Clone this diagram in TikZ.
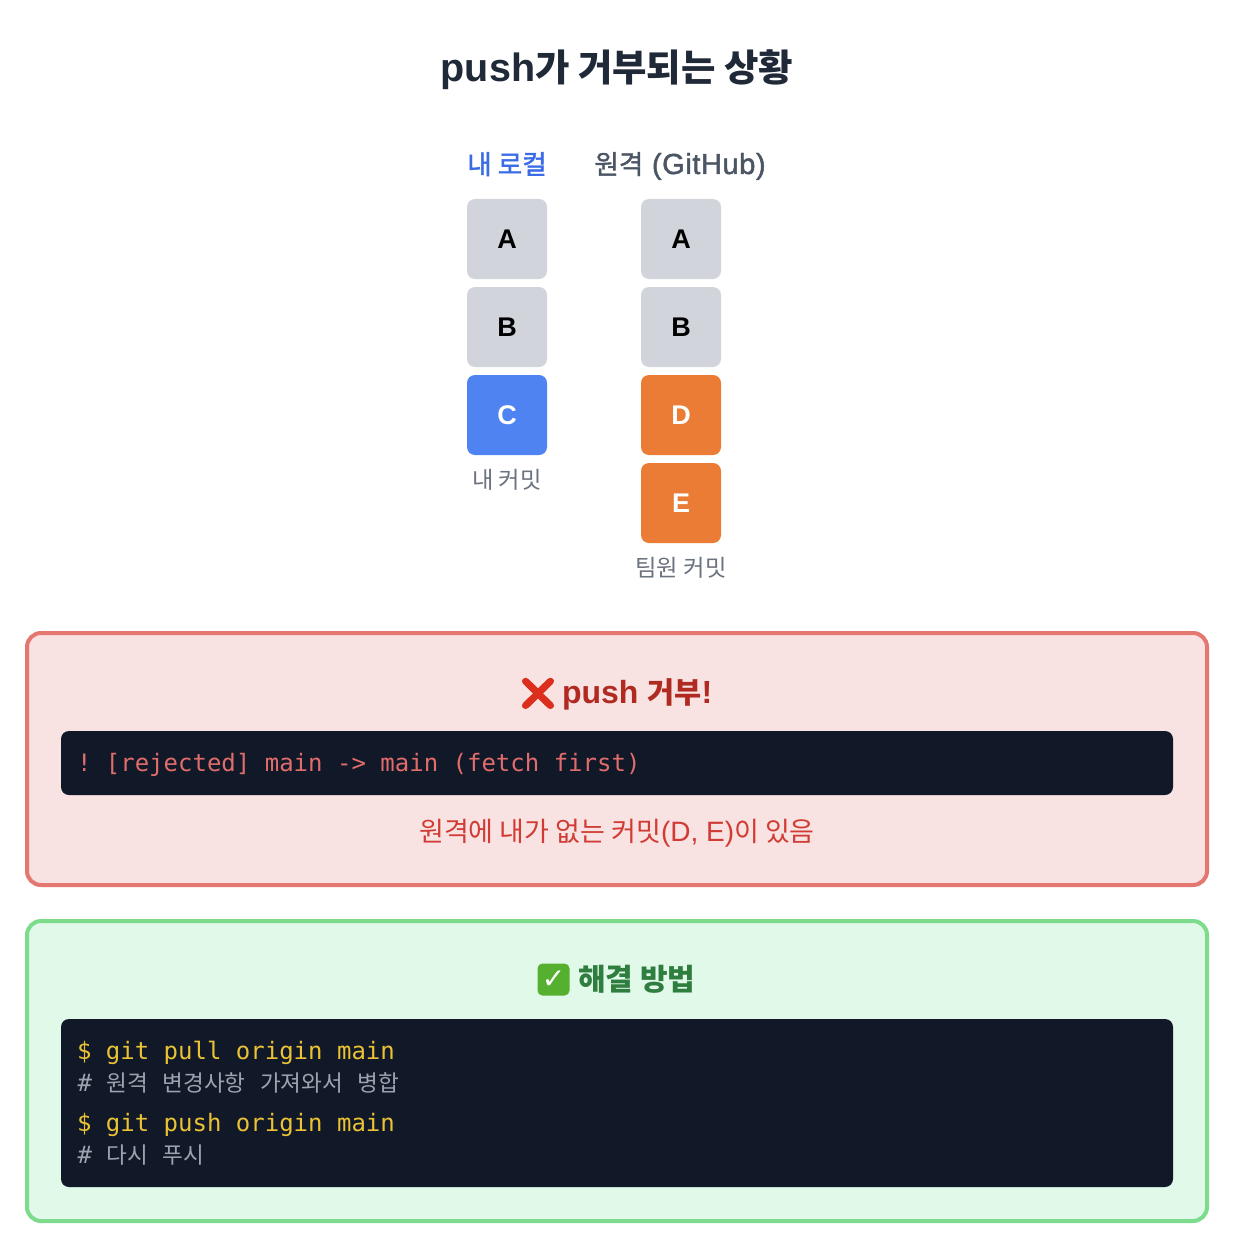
\documentclass[tikz,border=0pt]{standalone}
\usepackage{fontspec}
\setmainfont{Liberation Sans}
\setmonofont{DejaVu Sans Mono}
\newfontfamily\kofont{Noto Sans CJK KR}
\newfontfamily\kofake{Noto Sans CJK KR}[FakeBold=1.6]
\newfontfamily\medfont{Liberation Sans}[FakeBold=1.6,LetterSpace=2]
\newfontfamily\emojifont{Noto Emoji}[FakeBold=4]
\newfontfamily\symfont{DejaVu Sans}
\newcommand{\fs}[1]{\fontsize{#1}{#1}\selectfont}
\newcommand{\ko}[2]{{\fs{#1}\kofont #2}}
\newcommand{\kb}[2]{{\fs{#1}\kofont\bfseries #2}}
\newcommand{\kh}[2]{{\fs{#1}\kofake #2}}
\newcommand{\km}[1]{{\fs{22.6}\kofont #1}}
\definecolor{titlec}{HTML}{1F2937}
\definecolor{bluet}{HTML}{3B6CE6}
\definecolor{grayt}{HTML}{4B5563}
\definecolor{capt}{HTML}{6B7280}
\definecolor{boxg}{HTML}{D1D5DB}
\definecolor{boxb}{HTML}{4F83F1}
\definecolor{boxo}{HTML}{EA7C35}
\definecolor{redfill}{HTML}{F8E2E2}
\definecolor{redline}{HTML}{E57771}
\definecolor{codebg}{HTML}{111827}
\definecolor{coder}{HTML}{E06C6C}
\definecolor{redt}{HTML}{D13B34}
\definecolor{redh}{HTML}{B02A22}
\definecolor{crossc}{HTML}{DC2E1C}
\definecolor{greenfill}{HTML}{E1F9E9}
\definecolor{greenline}{HTML}{7DDC8C}
\definecolor{greenh}{HTML}{2F7D3F}
\definecolor{codey}{HTML}{EAC234}
\definecolor{codeg}{HTML}{9CA3AF}
\definecolor{checkc}{HTML}{55B02F}
\tikzset{
  txt/.style={inner sep=0pt,outer sep=0pt,anchor=base},
  commit/.style={inner sep=0pt,minimum size=80pt,rounded corners=8pt,font=\fs{27}\bfseries,text height=19pt,text depth=0pt},
  oldc/.style={commit,fill=boxg,text=black},
  minec/.style={commit,fill=boxb,text=white},
  teamc/.style={commit,fill=boxo,text=white},
  panel/.style={line width=4pt,rounded corners=14pt},
  codebox/.style={fill=codebg,rounded corners=8pt},
  codeline/.style={inner sep=0pt,outer sep=0pt,anchor=base west,font=\fs{24}\ttfamily},
}
\begin{document}
\begin{tikzpicture}[x=1pt,y=-1pt]
\useasboundingbox[fill=white] (0,0) rectangle (1242,1260);
\node[txt,text=titlec,font=\fs{39.5}\bfseries] (title) at (617,82) {push\kb{37.4}{가 거부되는 상황}};
\node[txt,text=bluet] (localh) at (507,174) {\kh{26.6}{내 로컬}};
\node[txt,text=grayt,font=\fs{29}\medfont] (remoteh) at (680,174) {\kh{26.6}{원격} (GitHub)};
\node[oldc] (la) at (507,239) {A};
\node[oldc] (lb) at (507,327) {B};
\node[minec] (lc) at (507,415) {C};
\node[oldc] (ra) at (681,239) {A};
\node[oldc] (rb) at (681,327) {B};
\node[teamc] (rd) at (681,415) {D};
\node[teamc] (re) at (681,503) {E};
\node[txt,text=capt] (lcap) at (507,488) {\ko{23.3}{내 커밋}};
\node[txt,text=capt] (rcap) at (681,576) {\ko{23.3}{팀원 커밋}};
% rejected panel
\path[panel,draw=redline,fill=redfill] (27,633) rectangle (1207,885);
\node[txt,text=crossc,font=\fs{31}\emojifont] (cross) at (538,704) {❌};
\node[txt,text=redh,font=\fs{32}\bfseries,anchor=base west] (rejh) at (562,703) {push \kb{29.5}{거부}!};
\path[codebox] (61,731) rectangle (1173,795);
\node[codeline,text=coder] (rejc) at (77,771) {! [rejected] main -> main (fetch first)};
\node[txt,text=redt,font=\fs{28}] (rejt) at (617,841) {\ko{27}{원격에 내가 없는 커밋}(D, E)\ko{27}{이 있음}};
% solution panel
\path[panel,draw=greenline,fill=greenfill] (27,921) rectangle (1207,1221);
\node[inner sep=0pt,minimum size=32pt,rounded corners=5pt,fill=checkc,text=white,font=\fs{28}\symfont] (chk) at (553.5,979.5) {✓};
\node[txt,text=greenh,anchor=base west] (solh) at (578,990.5) {\kb{30}{해결 방법}};
\path[codebox] (61,1019) rectangle (1173,1187);
\node[codeline,text=codey] (c1) at (77,1059) {\$ git pull origin main};
\node[codeline,text=codeg] (c2) at (77.5,1091) {\# \km{원격} \km{변경사항} \km{가져와서} \km{병합}};
\node[codeline,text=codey] (c3) at (77,1131) {\$ git push origin main};
\node[codeline,text=codeg] (c4) at (77.5,1163) {\# \km{다시} \km{푸시}};
\end{tikzpicture}
\end{document}
